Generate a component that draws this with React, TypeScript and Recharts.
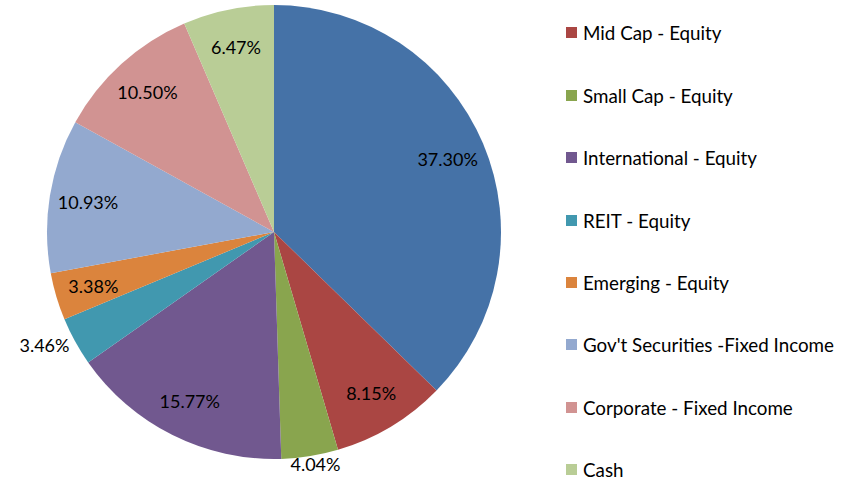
import { PieChart, Pie, Cell, Legend } from 'recharts';

const categories = [
  'Large Cap - Equity',
  'Mid Cap - Equity',
  'Small Cap - Equity',
  'International - Equity',
  'REIT - Equity',
  'Emerging - Equity',
  "Gov't Securities -Fixed Income",
  'Corporate - Fixed Income',
  'Cash',
];
const percents = [37.3, 8.15, 4.04, 15.77, 3.46, 3.38, 10.93, 10.5, 6.47];
const colors = ['#4572A7', '#AA4643', '#89A54E', '#71588F', '#4198AF', '#DB843D', '#93A9CF', '#D19392', '#B9CD96'];
// labels Excel pushed outside the pie
const outsideLabels = ['Small Cap - Equity', 'REIT - Equity'];
// the reference's legend is scrolled, its first entry is out of view
const firstLegendItem = 1;

const data = categories.map((name, i) => ({ name, value: percents[i] }));

const FONT = 'Lato, "Open Sans", sans-serif';
const RAD = Math.PI / 180;

const renderLabel = (props: any) => {
  const { cx, cy, midAngle, outerRadius, name, value } = props;
  const cos = Math.cos(-midAngle * RAD);
  const sin = Math.sin(-midAngle * RAD);
  let x, y;
  if (outsideLabels.includes(name)) {
    const r = outerRadius + 3;
    x = cx + r * cos + cos * 32;
    y = cy + r * sin + sin * 5;
  } else {
    const r = outerRadius * 0.83;
    x = cx + r * cos;
    y = cy + r * sin;
  }
  return (
    <text x={x} y={y} textAnchor="middle" dominantBaseline="central" fill="#000" fontSize={18} fontFamily={FONT}>
      {value.toFixed(2)}%
    </text>
  );
};

const renderLegend = () => (
  <div style={{ fontFamily: FONT, fontSize: 18.8, color: '#000' }}>
    {categories.slice(firstLegendItem).map((name, i) => (
      <div key={name} style={{ height: 62.4, display: 'flex', alignItems: 'center' }}>
        <span
          style={{
            width: 11,
            height: 11,
            background: colors[i + firstLegendItem],
            marginRight: 6,
            display: 'inline-block',
          }}
        />
        <span>{name}</span>
      </div>
    ))}
  </div>
);

export default function App() {
  return (
    <div style={{ position: 'absolute', left: 0, top: 0, width: 845, height: 480, background: '#fff' }}>
      <PieChart width={845} height={480} margin={{ top: 0, right: 0, bottom: 0, left: 0 }}>
        <Pie
          data={data}
          dataKey="value"
          nameKey="name"
          cx={274}
          cy={232}
          outerRadius={227}
          startAngle={90}
          endAngle={-270}
          stroke="none"
          label={renderLabel}
          labelLine={false}
          isAnimationActive={false}
        >
          {data.map((d, i) => (
            <Cell key={d.name} fill={colors[i]} />
          ))}
        </Pie>
        <Legend
          content={renderLegend}
          layout="vertical"
          wrapperStyle={{ position: 'absolute', left: 566, top: 1.8, width: 279 }}
        />
      </PieChart>
    </div>
  );
}
